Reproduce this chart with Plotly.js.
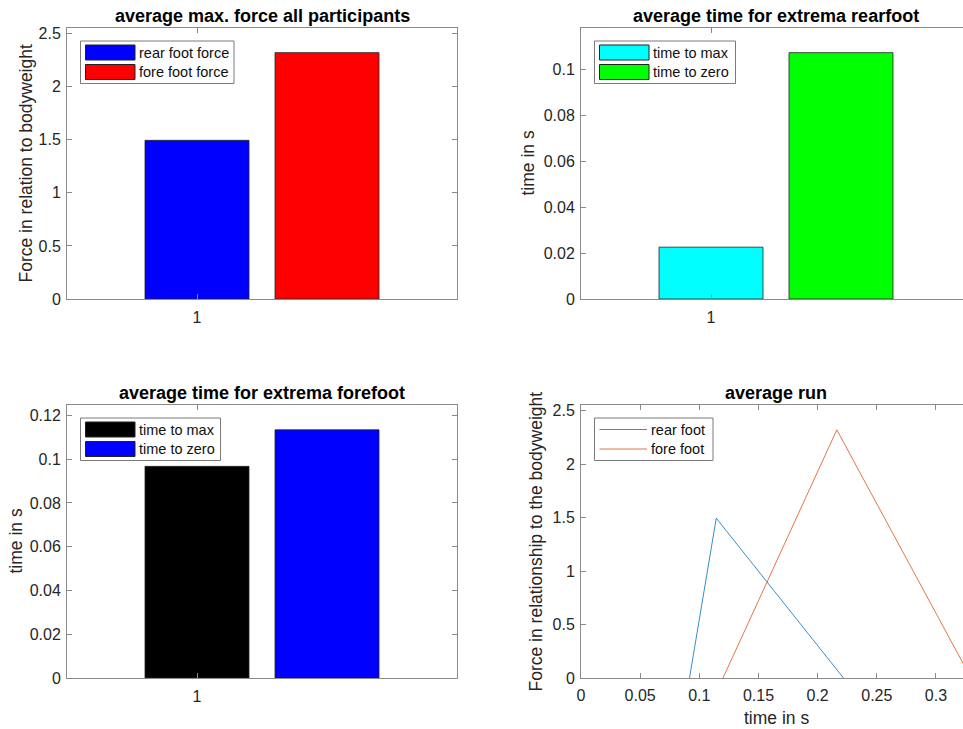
<!DOCTYPE html>
<html>
<head>
<meta charset="utf-8">
<script src="https://cdn.plot.ly/plotly-3.0.1.min.js"></script>
<style>
  html, body { margin: 0; padding: 0; overflow: hidden; background: #fff; }
  #chart { width: 1000px; height: 729px; }
</style>
</head>
<body>
<div id="chart"></div>
<script>
// ---- data ----
// average peak force, in multiples of body weight
const forceNames = ['rear foot force', 'fore foot force'];
const forceValues = [1.494, 2.32];
const forceX = [1, 1.5];

// rear foot: time from touchdown to peak, and from peak back to zero (s)
const rearTimeNames = ['time to max', 'time to zero'];
const rearTimeValues = [0.0226, 0.1074];

// fore foot: same two intervals (s)
const foreTimeNames = ['time to max', 'time to zero'];
const foreTimeValues = [0.0967, 0.1134];

const barX = [1, 1.5];
const barTickVals = [1];
const barTickText = ['1'];

// averaged force curves over one step (contact phase only)
const runNames = ['rear foot', 'fore foot'];
const rearT = [0.0917, 0.1143, 0.2218];
const rearF = [0, 1.494, 0];
const foreT = [0.12, 0.2162, 0.3296];
const foreF = [0, 2.32, 0];
const runStart = 0;

// ---- styling ----
const FONT = 'Liberation Sans, Arial, Helvetica, sans-serif';
const TEXT = '#262626';
const AXIS = '#8a8a8a';
const W = 1000, H = 729;

const forceColors = ['#0000ff', '#ff0000'];
const rearColors = ['#00ffff', '#00ff00'];
const foreColors = ['#000000', '#0000ff'];
const runColors = ['#0072bd', '#d95319'];

// axes boxes in pixels: left, right, top, bottom, and y-title centre
const boxes = {
  tl: {l: 67, r: 457, t: 28, b: 299, x: 'x', y: 'y', tx: 25},
  tr: {l: 581, r: 971, t: 28, b: 299, x: 'x2', y: 'y2', tx: 527},
  bl: {l: 67, r: 457, t: 405, b: 678, x: 'x3', y: 'y3', tx: 15},
  br: {l: 581, r: 971, t: 405, b: 678, x: 'x4', y: 'y4', tx: 535}
};

function axisBase(box, isX) {
  return {
    domain: isX ? [box.l / W, box.r / W] : [1 - box.b / H, 1 - box.t / H],
    showline: true, mirror: 'ticks', linecolor: AXIS, linewidth: 1,
    ticks: 'inside', ticklen: 5, tickwidth: 1, tickcolor: AXIS,
    showgrid: false, zeroline: false, fixedrange: true,
    tickfont: {family: FONT, size: 16, color: TEXT},
    ticklabelstandoff: isX ? 4 : 2,
    anchor: isX ? box.y : box.x
  };
}

const traces = [];
function addBars(box, xs, values, colors) {
  values.forEach((v, i) => {
    traces.push({
      type: 'bar', x: [xs[i]], y: [v], width: 0.4,
      marker: {color: colors[i], line: {color: '#222', width: 0.8}},
      xaxis: box.x, yaxis: box.y, showlegend: false, hoverinfo: 'x+y'
    });
  });
}
addBars(boxes.tl, forceX, forceValues, forceColors);
addBars(boxes.tr, barX, rearTimeValues, rearColors);
addBars(boxes.bl, barX, foreTimeValues, foreColors);

[[rearT, rearF], [foreT, foreF]].forEach((s, i) => {
  traces.push({
    type: 'scatter', mode: 'lines', x: s[0], y: s[1], name: runNames[i],
    line: {color: runColors[i], width: 0.8},
    xaxis: boxes.br.x, yaxis: boxes.br.y, showlegend: false
  });
});

// ---- layout ----
const layout = {
  width: W, height: H,
  margin: {l: 0, r: 0, t: 0, b: 0},
  paper_bgcolor: '#fff', plot_bgcolor: '#fff',
  barmode: 'overlay', showlegend: false,
  font: {family: FONT, color: TEXT},
  shapes: [], annotations: []
};

function barXAxis(box) {
  return Object.assign(axisBase(box, true), {
    range: [0.5, 2], tickmode: 'array', tickvals: barTickVals, ticktext: barTickText
  });
}
function yAxis(box, vmax, dtick) {
  return Object.assign(axisBase(box, false), {
    range: [0, vmax * 1.1], dtick: dtick, tick0: 0
  });
}

layout.xaxis = barXAxis(boxes.tl);
layout.yaxis = yAxis(boxes.tl, Math.max(...forceValues), 0.5);
layout.xaxis2 = barXAxis(boxes.tr);
layout.yaxis2 = yAxis(boxes.tr, Math.max(...rearTimeValues), 0.02);
layout.xaxis3 = barXAxis(boxes.bl);
layout.yaxis3 = yAxis(boxes.bl, Math.max(...foreTimeValues), 0.02);
layout.xaxis4 = Object.assign(axisBase(boxes.br, true), {
  range: [runStart, foreT[foreT.length - 1]], dtick: 0.05, tick0: 0,
  ticklabelstandoff: 3
});
layout.yaxis4 = yAxis(boxes.br, Math.max(...foreF), 0.5);

// axis titles, placed beside the tick labels
const yTitles = {
  tl: 'Force in relation to bodyweight',
  tr: 'time in s',
  bl: 'time in s',
  br: 'Force in relationship to the bodyweight'
};
Object.keys(yTitles).forEach(k => {
  const b = boxes[k];
  layout.annotations.push({
    text: yTitles[k], showarrow: false, textangle: -90,
    xref: 'paper', yref: 'paper', x: b.tx / W, y: 1 - (b.t + b.b) / 2 / H,
    xanchor: 'center', yanchor: 'middle',
    font: {family: FONT, size: 17.5, color: TEXT}
  });
});
layout.annotations.push({
  text: 'time in s', showarrow: false,
  xref: boxes.br.x + ' domain', yref: 'paper', x: 0.5, y: 1 - 718 / H,
  xanchor: 'center', yanchor: 'middle',
  font: {family: FONT, size: 17.5, color: TEXT}
});

// subplot titles
const titles = {
  tl: 'average max. force all participants',
  tr: 'average time for extrema rearfoot',
  bl: 'average time for extrema forefoot',
  br: 'average run'
};
Object.keys(titles).forEach(k => {
  const b = boxes[k];
  layout.annotations.push({
    text: '<b>' + titles[k] + '</b>', showarrow: false,
    xref: b.x + ' domain', yref: b.y + ' domain', x: 0.5, y: 1,
    xanchor: 'center', yanchor: 'middle', yshift: 12.5,
    font: {family: FONT, size: 18, color: '#000'}
  });
});

// boxed legends drawn inside the upper-left corner of each axes
function legend(box, names, colors, kind, boxW) {
  const w = box.r - box.l, h = box.b - box.t;
  const fx = p => p / w, fy = p => 1 - p / h;
  const xref = box.x + ' domain', yref = box.y + ' domain';
  layout.shapes.push({
    type: 'rect', xref, yref, x0: fx(13.5), x1: fx(13.5 + boxW), y0: fy(13), y1: fy(55.5),
    line: {color: '#7a7a7a', width: 1}, fillcolor: '#fff', layer: 'above'
  });
  names.forEach((n, i) => {
    const cy = 24.5 + i * 19.5;
    if (kind === 'bar') {
      layout.shapes.push({
        type: 'rect', xref, yref, x0: fx(18.5), x1: fx(68), y0: fy(cy - 7.5), y1: fy(cy + 7.5),
        line: {color: '#222', width: 1}, fillcolor: colors[i], layer: 'above'
      });
    } else {
      layout.shapes.push({
        type: 'line', xref, yref, x0: fx(18.5), x1: fx(66), y0: fy(cy), y1: fy(cy),
        line: {color: colors[i], width: 0.8}, layer: 'above'
      });
    }
    layout.annotations.push({
      text: n, showarrow: false, xref, yref,
      x: fx(kind === 'bar' ? 69.5 : 67.5), y: fy(cy), xanchor: 'left', yanchor: 'middle',
      font: {family: FONT, size: 14.5, color: '#111'}
    });
  });
}
legend(boxes.tl, forceNames, forceColors, 'bar', 153.5);
legend(boxes.tr, rearTimeNames, rearColors, 'bar', 141);
legend(boxes.bl, foreTimeNames, foreColors, 'bar', 140);
legend(boxes.br, runNames, runColors, 'line', 118.5);

Plotly.newPlot('chart', traces, layout, {displayModeBar: false, staticPlot: true});
</script>
</body>
</html>
